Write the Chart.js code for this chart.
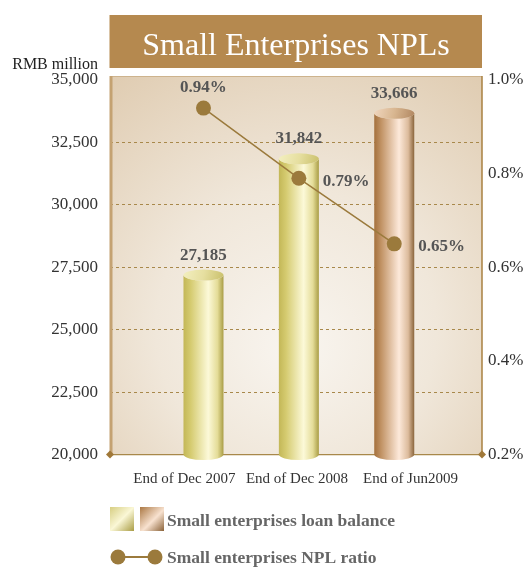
<!DOCTYPE html>
<html><head><meta charset="utf-8">
<script src="https://cdn.jsdelivr.net/npm/chart.js@4/dist/chart.umd.min.js"></script>
<style>html,body{margin:0;padding:0;background:#fff}#wrap{width:526px;height:568px;position:relative}</style>
</head><body><div id="wrap"><canvas id="c" width="526" height="568"></canvas></div>
<script>
// ---- data ----
const titleText = 'Small Enterprises NPLs';
const unitLabel = 'RMB million';
const categories = ['End of Dec 2007', 'End of Dec 2008', 'End of Jun2009'];
const categoryPositions = [1, 2, 3];
const labelPositions = [0.8, 1.98, 3.17];
const loanBalance = [27185, 31842, 33666];
const nplRatio = [0.94, 0.79, 0.65];
const leftTickValues = [20000, 22500, 25000, 27500, 30000, 32500, 35000];
const rightTickValues = [0.2, 0.4, 0.6, 0.8, 1.0];
const seriesNames = ['Small enterprises loan balance', 'Small enterprises NPL ratio'];

const SERIF = "'Liberation Serif', 'Times New Roman', serif";
Chart.defaults.font.family = SERIF;

const yellowSide = [[0, '#c3b757'], [0.18, '#d5cb70'], [0.62, '#fcf9d8'], [0.85, '#e4dc98'], [1, '#a99d45']];
const brownSide = [[0, '#a4703c'], [0.18, '#c29466'], [0.62, '#fde9da'], [0.85, '#dcbb9c'], [1, '#8a653c']];
const yellowTop = [[0, '#f3efc0'], [0.5, '#e6dfa0'], [1, '#c9bf6a']];
const brownTop = [[0, '#f0d6be'], [0.5, '#d8b690'], [1, '#b08660']];

function grad(ctx, x0, y0, x1, y1, stops) {
  const g = ctx.createLinearGradient(x0, y0, x1, y1);
  stops.forEach(s => g.addColorStop(s[0], s[1]));
  return g;
}

function drawCylinder(ctx, x, top, bottom, w, side, topStops) {
  const rx = w / 2, ry = 5.5;
  const l = x - rx, r = x + rx;
  ctx.save();
  ctx.beginPath();
  ctx.moveTo(l, top);
  ctx.lineTo(l, bottom);
  ctx.ellipse(x, bottom, rx, ry, 0, Math.PI, 0, true);
  ctx.lineTo(r, top);
  ctx.ellipse(x, top, rx, ry, 0, 0, Math.PI, false);
  ctx.closePath();
  ctx.fillStyle = grad(ctx, l, 0, r, 0, side);
  ctx.fill();
  ctx.beginPath();
  ctx.ellipse(x, top, rx, ry, 0, 0, Math.PI * 2);
  ctx.fillStyle = grad(ctx, l, top - ry, r, top + ry, topStops);
  ctx.fill();
  ctx.restore();
}

const decoPlugin = {
  id: 'deco',
  beforeDraw(chart) {
    const {ctx, chartArea: a} = chart;
    ctx.save();
    // title box
    ctx.fillStyle = '#b5894f';
    ctx.fillRect(a.left - 0.5, 15, a.right - a.left + 0.5, 53);
    ctx.fillStyle = '#ffffff';
    ctx.font = '32px ' + SERIF;
    ctx.textAlign = 'center';
    ctx.textBaseline = 'alphabetic';
    ctx.fillText(titleText, (a.left + a.right) / 2, 55);
    // plot background
    const top = a.top - 4;
    const cx = (a.left + a.right) / 2;
    const g = ctx.createRadialGradient(cx, a.top + (a.bottom - a.top) * 0.72, 10, cx, a.top + (a.bottom - a.top) * 0.6, 300);
    g.addColorStop(0, '#f8f4ee');
    g.addColorStop(0.45, '#f0e7da');
    g.addColorStop(1, '#dfcbb0');
    ctx.fillStyle = g;
    ctx.fillRect(a.left, top, a.right - a.left, a.bottom - top);
    // unit label
    ctx.fillStyle = '#222';
    ctx.font = '16px ' + SERIF;
    ctx.textAlign = 'right';
    ctx.textBaseline = 'middle';
    ctx.fillText(unitLabel, 98, 65);
    ctx.restore();
  },
  beforeDatasetsDraw(chart) {
    const {ctx, chartArea: a} = chart;
    const top = a.top - 4;
    ctx.save();
    ctx.strokeStyle = '#cdb38d';
    ctx.lineWidth = 1;
    ctx.beginPath(); ctx.moveTo(a.left, top + 0.5); ctx.lineTo(a.right, top + 0.5); ctx.stroke();
    ctx.strokeStyle = '#c4a272';
    ctx.lineWidth = 3;
    ctx.beginPath(); ctx.moveTo(a.left + 1, top); ctx.lineTo(a.left + 1, a.bottom); ctx.stroke();
    ctx.strokeStyle = '#a88040';
    ctx.lineWidth = 1.5;
    ctx.beginPath(); ctx.moveTo(a.right, top); ctx.lineTo(a.right, a.bottom); ctx.stroke();
    // diamonds
    ctx.fillStyle = '#a07838';
    [a.left, a.right].forEach(x => {
      ctx.beginPath();
      ctx.moveTo(x, a.bottom - 4); ctx.lineTo(x + 4, a.bottom); ctx.lineTo(x, a.bottom + 4); ctx.lineTo(x - 4, a.bottom);
      ctx.closePath(); ctx.fill();
    });
    ctx.restore();
  },
  afterDatasetDraw(chart, args) {
    if (args.index !== 1) return;
    const ctx = chart.ctx;
    const base = chart.scales.y.getPixelForValue(chart.scales.y.min);
    args.meta.data.forEach((el, i) => {
      const isLast = i === args.meta.data.length - 1;
      drawCylinder(ctx, el.x, el.y, base, 40, isLast ? brownSide : yellowSide, isLast ? brownTop : yellowTop);
    });
  },
  afterDraw(chart) {
    const ctx = chart.ctx;
    ctx.save();
    ctx.fillStyle = '#555';
    ctx.font = 'bold 17px ' + SERIF;
    ctx.textBaseline = 'middle';
    // bar value labels
    chart.getDatasetMeta(1).data.forEach((el, i) => {
      ctx.textAlign = 'center';
      ctx.fillText(loanBalance[i].toLocaleString('en-US'), el.x, el.y - 20);
    });
    // line value labels
    chart.getDatasetMeta(0).data.forEach((el, i) => {
      const t = nplRatio[i].toFixed(2) + '%';
      if (i === 0) { ctx.textAlign = 'center'; ctx.fillText(t, el.x, el.y - 20); }
      else { ctx.textAlign = 'left'; ctx.fillText(t, el.x + 24, el.y + 3); }
    });
    // legend
    const sw = 24;
    ctx.fillStyle = grad(ctx, 110, 507, 110 + sw, 507 + sw, [[0, '#d7ce82'], [0.5, '#faf7d6'], [1, '#a99c44']]);
    ctx.fillRect(110, 507, sw, sw);
    ctx.fillStyle = grad(ctx, 140, 507, 140 + sw, 507 + sw, [[0, '#ab7844'], [0.55, '#f8e2d0'], [1, '#8a6238']]);
    ctx.fillRect(140, 507, sw, sw);
    ctx.strokeStyle = '#9b7a3c'; ctx.lineWidth = 2;
    ctx.beginPath(); ctx.moveTo(118, 557); ctx.lineTo(155, 557); ctx.stroke();
    ctx.fillStyle = '#9b7a3c';
    [118, 155].forEach(x => { ctx.beginPath(); ctx.arc(x, 557, 7.5, 0, Math.PI * 2); ctx.fill(); });
    ctx.fillStyle = '#666';
    ctx.font = 'bold 17.5px ' + SERIF;
    ctx.textAlign = 'left';
    ctx.fillText(seriesNames[0], 167, 521);
    ctx.fillText(seriesNames[1], 167, 558);
    ctx.restore();
  }
};

new Chart(document.getElementById('c'), {
  type: 'bar',
  data: {
    datasets: [
      {
        type: 'line', label: seriesNames[1],
        data: categoryPositions.map((x, i) => ({x, y: nplRatio[i]})),
        xAxisID: 'x', yAxisID: 'y1',
        borderColor: '#9b7a3c', borderWidth: 1.5,
        pointRadius: 7.5, pointBackgroundColor: '#9b7a3c', pointBorderWidth: 0,
        order: 0, clip: false
      },
      {
        type: 'bar', label: seriesNames[0],
        data: categoryPositions.map((x, i) => ({x, y: loanBalance[i]})),
        xAxisID: 'x', yAxisID: 'y',
        backgroundColor: 'rgba(0,0,0,0)', borderWidth: 0,
        barThickness: 40, order: 1
      }
    ]
  },
  options: {
    responsive: false,
    animation: false,
    devicePixelRatio: 1,
    layout: {padding: {top: 80, bottom: 83.5, left: 0, right: 0}},
    plugins: {legend: {display: false}, title: {display: false}, tooltip: {enabled: false}},
    scales: {
      x: {type: 'linear', min: 0.02, max: 3.92, offset: false, display: false, grid: {offset: false}},
      xlab: {
        type: 'linear', position: 'bottom', min: 0.02, max: 3.92, offset: false,
        afterBuildTicks: s => { s.ticks = labelPositions.map(v => ({value: v})); },
        afterFit: s => { s.height = 30; },
        grid: {display: false, offset: false},
        border: {display: true, color: '#a8884a', width: 1.2, dash: [3, 2]},
        ticks: {autoSkip: false, maxRotation: 0, padding: 8, color: '#333', font: {size: 15},
          callback: (v, i) => categories[i]}
      },
      y: {
        type: 'linear', position: 'left', min: 20000, max: 35000, beginAtZero: false,
        afterBuildTicks: s => { s.ticks = leftTickValues.map(v => ({value: v})); },
        afterFit: s => { s.width = 110; },
        grid: {drawTicks: false, lineWidth: 1, color: c => (c.tick && (c.tick.value === 20000 || c.tick.value === 35000)) ? 'rgba(0,0,0,0)' : '#a8884a'},
        border: {display: false, dash: [3, 3]},
        ticks: {padding: 12, color: '#333', font: {size: 17}, callback: v => v.toLocaleString('en-US')}
      },
      y1: {
        type: 'linear', position: 'right', min: 0.2, max: 1.0, beginAtZero: false,
        afterBuildTicks: s => { s.ticks = rightTickValues.map(v => ({value: v})); },
        afterFit: s => { s.width = 44; },
        grid: {display: false, drawTicks: false},
        border: {display: false},
        ticks: {padding: 6, color: '#333', font: {size: 17}, callback: v => v.toFixed(1) + '%'}
      }
    }
  },
  plugins: [decoPlugin]
});
</script>
</body></html>
